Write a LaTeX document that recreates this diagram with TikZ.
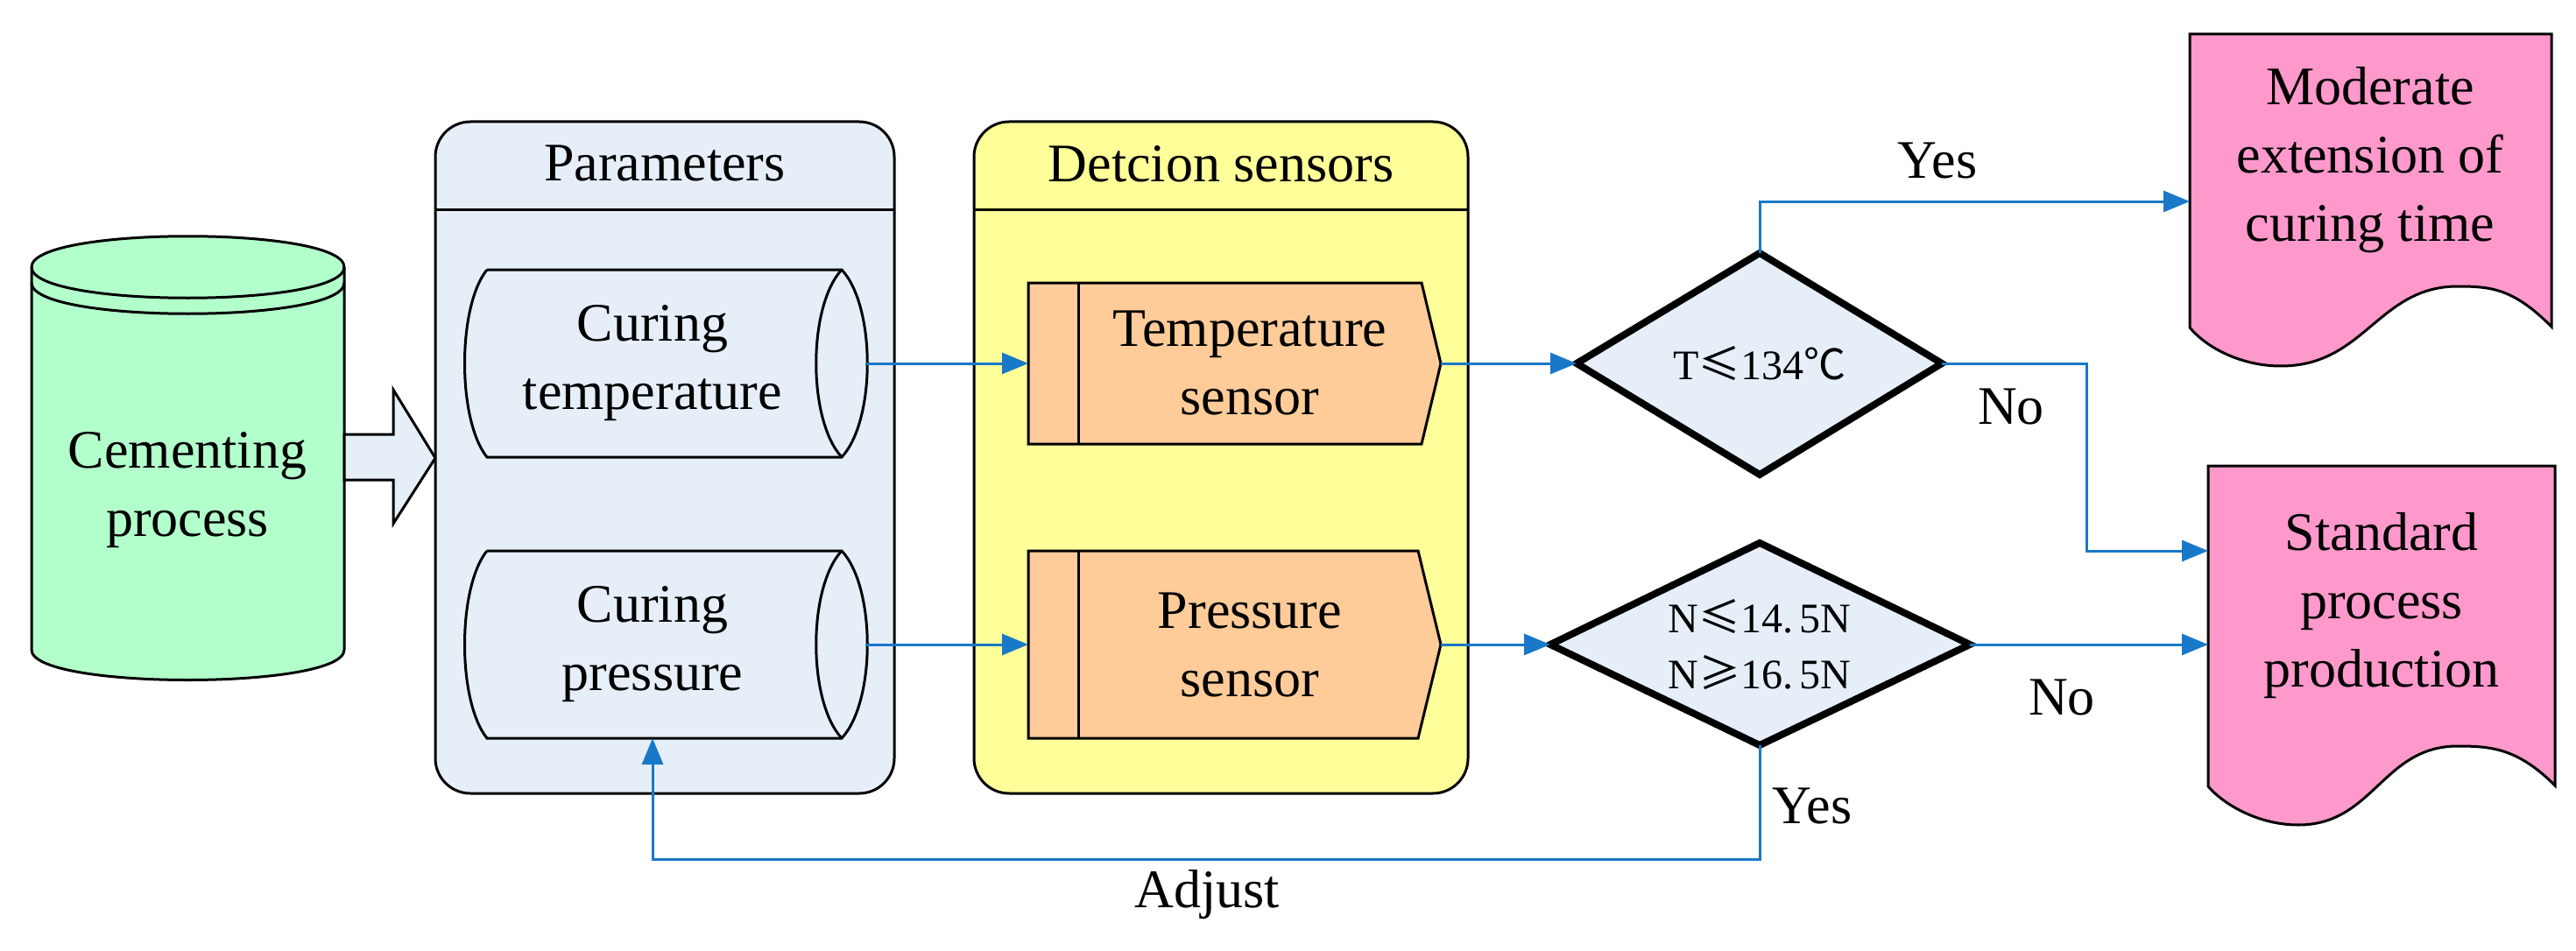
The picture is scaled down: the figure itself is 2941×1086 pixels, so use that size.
\documentclass[tikz,border=0pt]{standalone}
\usepackage{fontspec}
\setmainfont{Liberation Serif}
\newfontfamily\cjk{Noto Sans CJK SC}
\usetikzlibrary{arrows.meta}
\definecolor{cgreen}{RGB}{179,255,204}
\definecolor{cpale}{RGB}{230,238,248}
\definecolor{cyel}{RGB}{255,255,153}
\definecolor{corange}{RGB}{255,204,153}
\definecolor{cpink}{RGB}{255,153,204}
\definecolor{cblue}{RGB}{25,120,200}
\begin{document}
\begin{tikzpicture}[x=1pt,y=-1pt,
  outl/.style={draw=black,line width=3pt},
  conn/.style={draw=cblue,line width=3pt,-{Triangle[length=30pt,width=24pt]}},
  line/.style={draw=cblue,line width=3pt},
  txt/.style={font=\fontsize{62}{78}\selectfont,align=center,inner sep=0pt},
  dtxt/.style={font=\fontsize{48}{64}\selectfont,align=center,inner sep=0pt}]
\useasboundingbox (0,0) rectangle (2941,1086);
% cementing cylinder
\path[outl,fill=cgreen] (36,305) -- (36,742) .. controls (36,788) and (393,788) .. (393,742) -- (393,305) .. controls (393,258) and (36,258) .. (36,305) -- cycle;
\draw[line width=3pt] (36,305) .. controls (36,352) and (393,352) .. (393,305);
\draw[line width=3pt] (36,323) .. controls (36,370) and (393,370) .. (393,323);
\node[txt] (cem) at (214,560) {Cementing\\process};
% block arrow
\path[outl,fill=cpale] (393,496) -- (449,496) -- (449,445) -- (497,523) -- (449,598) -- (449,548) -- (393,548) -- cycle;
% parameters
\path[outl,fill=cpale,rounded corners=40pt] (497,139) rectangle (1021,906);
\draw[line width=3pt] (497,239) -- (1021,239);
\node[txt] (par) at (759,187) {Parameters};
% horizontal cylinders
\foreach \t/\nm in {308/ct,629/cp}{
  \path[outl,fill=cpale] (556,\t) -- (961,\t) .. controls (1000,\t+42) and (1000,\t+172) .. (961,\t+214) -- (556,\t+214) .. controls (522,\t+172) and (522,\t+42) .. (556,\t);
  \draw[line width=3pt] (961,\t) .. controls (922,\t+42) and (922,\t+172) .. (961,\t+214);
  \coordinate (\nm o) at (988,\t+107);
}
\node[txt] (ctt) at (745,415) {Curing\\temperature};
\node[txt] (cpt) at (745,736) {Curing\\pressure};
\coordinate (cpb) at (745,843);
% sensors
\path[outl,fill=cyel,rounded corners=40pt] (1112,139) rectangle (1676,906);
\draw[line width=3pt] (1112,239) -- (1676,239);
\node[txt] (det) at (1394,187) {Detcion sensors};
\path[outl,fill=corange] (1174,323) -- (1623,323) -- (1645,415) -- (1623,507) -- (1174,507) -- cycle;
\draw[line width=3pt] (1231,323) -- (1231,507);
\path[outl,fill=corange] (1174,629) -- (1619,629) -- (1645,736) -- (1619,843) -- (1174,843) -- cycle;
\draw[line width=3pt] (1231,629) -- (1231,843);
\node[txt] (ts) at (1427,415) {Temperature\\sensor};
\node[txt] (ps) at (1427,736) {Pressure\\sensor};
\coordinate (tsi) at (1174,415); \coordinate (tso) at (1645,415);
\coordinate (psi) at (1174,736); \coordinate (pso) at (1645,736);
% diamonds
\path[draw=black,line width=8pt,fill=cpale,line join=miter] (1800,415) -- (2009,289) -- (2217,415) -- (2009,542) -- cycle;
\path[draw=black,line width=8pt,fill=cpale,line join=miter] (1770,736) -- (2009,620) -- (2249,736) -- (2009,851) -- cycle;
\node[dtxt] (d1) at (2009,415) {T{\cjk ≤}134{\cjk ℃}};
\node[dtxt] (d2) at (2009,736) {N{\cjk ≤}14.\,5N\\N{\cjk ≥}16.\,5N};
\coordinate (d1l) at (1800,415); \coordinate (d1t) at (2009,289); \coordinate (d1r) at (2217,415);
\coordinate (d2l) at (1770,736); \coordinate (d2r) at (2249,736); \coordinate (d2b) at (2009,851);
% documents
\path[outl,fill=cpink] (2500,39) -- (2913,39) -- (2913,373) .. controls (2870,330) and (2845,327) .. (2806,327) .. controls (2715,327) and (2700,418) .. (2604,418) .. controls (2560,418) and (2520,398) .. (2500,374) -- cycle;
\path[outl,fill=cpink] (2521,532) -- (2917,532) -- (2917,897) .. controls (2875,855) and (2845,852) .. (2806,852) .. controls (2720,852) and (2710,942) .. (2624,942) .. controls (2580,942) and (2540,920) .. (2521,898) -- cycle;
\node[txt] (doc1) at (2706,183) {Moderate\\extension of\\curing time};
\node[txt] (doc2) at (2719,692) {Standard\\process\\production};
\coordinate (doc1i) at (2500,230); \coordinate (doc2a) at (2521,629); \coordinate (doc2b) at (2521,736);
% connectors
\draw[conn] (cto) -- (tsi);
\draw[conn] (cpo) -- (psi);
\draw[conn] (tso) -- (d1l);
\draw[conn] (pso) -- (d2l);
\draw[conn] (d1t) |- (doc1i);
\draw[conn] (d1r) -- (2382,415) |- (doc2a);
\draw[conn] (d2r) -- (doc2b);
\draw[conn] (d2b) -- (2009,981) -| (cpb);
% labels
\node[txt] (yes1) at (2212,184) {Yes};
\node[txt] (no1) at (2296,465) {No};
\node[txt] (no2) at (2354,796) {No};
\node[txt] (yes2) at (2069,920) {Yes};
\node[txt] (adj) at (1378,1022) {Adjust};
\end{tikzpicture}
\end{document}
